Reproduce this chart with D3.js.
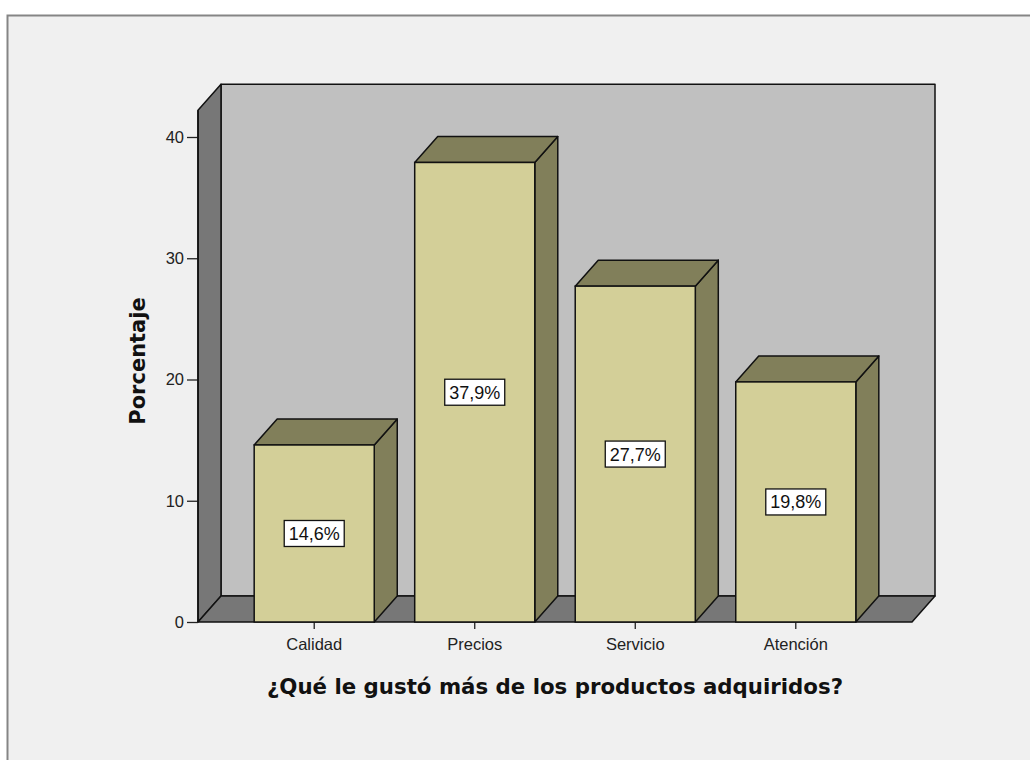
<!DOCTYPE html>
<html>
<head>
<meta charset="utf-8">
<script src="https://cdn.jsdelivr.net/npm/d3@7/dist/d3.min.js"></script>
<style>
  html, body { margin: 0; padding: 0; background: #ffffff; }
  svg { display: block; }
</style>
</head>
<body>
<svg id="chart" width="1030" height="760"></svg>
<script>
// Data
const categories = ["Calidad", "Precios", "Servicio", "Atención"];
const percentages = [14.6, 37.9, 27.7, 19.8];
const yTickValues = [0, 10, 20, 30, 40];
const yAxisTitle = "Porcentaje";
const xAxisTitle = "¿Qué le gustó más de los productos adquiridos?";

const svg = d3.select("#chart");

// Chart frame
svg.append("rect")
  .attr("x", 7.5).attr("y", 15.5)
  .attr("width", 1040).attr("height", 780)
  .attr("fill", "#f0f0f0")
  .attr("stroke", "#858585")
  .attr("stroke-width", 2);

// Plot geometry (front plane) and 3D depth offset
const left = 198, right = 912, bottom = 622;
const depthX = 23, depthY = 26;

const x = d3.scaleBand()
  .domain(categories)
  .range([left, right])
  .paddingInner(0.252)
  .paddingOuter(0.35);

const y = d3.scaleLinear()
  .domain([0, 40])
  .range([bottom, 137]);

const wallTop = y(42.2);

const pts = p => p.map(d => d.join(",")).join(" ");

// Back wall
svg.append("polygon")
  .attr("points", pts([
    [left + depthX, wallTop - depthY], [right + depthX, wallTop - depthY],
    [right + depthX, bottom - depthY], [left + depthX, bottom - depthY]]))
  .attr("fill", "#c0c0c0").attr("stroke", "#111").attr("stroke-width", 1.5)
  .attr("stroke-linejoin", "round");

// Side wall
svg.append("polygon")
  .attr("points", pts([
    [left, wallTop], [left + depthX, wallTop - depthY],
    [left + depthX, bottom - depthY], [left, bottom]]))
  .attr("fill", "#777777").attr("stroke", "#111").attr("stroke-width", 1.5)
  .attr("stroke-linejoin", "round");

// Floor
svg.append("polygon")
  .attr("points", pts([
    [left, bottom], [left + depthX, bottom - depthY],
    [right + depthX, bottom - depthY], [right, bottom]]))
  .attr("fill", "#777777").attr("stroke", "#111").attr("stroke-width", 1.5)
  .attr("stroke-linejoin", "round");

// Y axis ticks and labels
const yAxis = d3.axisLeft(y).tickValues(yTickValues).tickSize(11).tickPadding(3)
  .tickFormat(d3.format("d"));
const gy = svg.append("g").attr("transform", `translate(${left},0)`).call(yAxis);
gy.select(".domain").remove();
gy.selectAll(".tick line").attr("stroke", "#222").attr("stroke-width", 1.3);
gy.selectAll(".tick text")
  .attr("font-family", "'Liberation Sans', Arial, sans-serif")
  .attr("font-size", 16.5).attr("fill", "#222");

// X axis ticks and labels
const xAxis = d3.axisBottom(x).tickSize(7).tickPadding(9);
const gx = svg.append("g").attr("transform", `translate(0,${bottom})`).call(xAxis);
gx.select(".domain").remove();
gx.selectAll(".tick line").attr("stroke", "#222").attr("stroke-width", 1.3);
gx.selectAll(".tick text")
  .attr("font-family", "'Liberation Sans', Arial, sans-serif")
  .attr("font-size", 16.5).attr("fill", "#222");

// 3D bars
const bars = svg.append("g").selectAll("g.bar")
  .data(categories.map((c, i) => ({ cat: c, value: percentages[i] })))
  .join("g").attr("class", "bar");

bars.append("polygon") // right side face
  .attr("points", d => {
    const x1 = x(d.cat) + x.bandwidth(), yt = y(d.value);
    return pts([[x1, yt], [x1 + depthX, yt - depthY], [x1 + depthX, bottom - depthY], [x1, bottom]]);
  })
  .attr("fill", "#817f5a").attr("stroke", "#111").attr("stroke-width", 1.5)
  .attr("stroke-linejoin", "round");

bars.append("polygon") // top face
  .attr("points", d => {
    const x0 = x(d.cat), x1 = x0 + x.bandwidth(), yt = y(d.value);
    return pts([[x0, yt], [x0 + depthX, yt - depthY], [x1 + depthX, yt - depthY], [x1, yt]]);
  })
  .attr("fill", "#817f5a").attr("stroke", "#111").attr("stroke-width", 1.5)
  .attr("stroke-linejoin", "round");

bars.append("rect") // front face
  .attr("x", d => x(d.cat))
  .attr("y", d => y(d.value))
  .attr("width", x.bandwidth())
  .attr("height", d => bottom - y(d.value))
  .attr("fill", "#d3cf98").attr("stroke", "#111").attr("stroke-width", 1.5);

// Value labels
const fmt = v => d3.format(".1f")(v).replace(".", ",") + "%";
const labels = bars.append("g")
  .attr("transform", d => `translate(${x(d.cat) + x.bandwidth() / 2},${(y(d.value) + bottom) / 2})`);
labels.append("rect")
  .attr("x", -30).attr("y", -13).attr("width", 60).attr("height", 26)
  .attr("fill", "#ffffff").attr("stroke", "#111").attr("stroke-width", 1.3);
labels.append("text")
  .attr("text-anchor", "middle").attr("dy", "0.36em")
  .attr("font-family", "'Liberation Sans', Arial, sans-serif")
  .attr("font-size", 18).attr("fill", "#111")
  .text(d => fmt(d.value));

// Front axis edge drawn over the tick stubs
svg.append("line")
  .attr("x1", left).attr("x2", left).attr("y1", wallTop).attr("y2", bottom)
  .attr("stroke", "#111").attr("stroke-width", 1.5);

// Axis titles
svg.append("text")
  .attr("transform", `translate(145,361) rotate(-90)`)
  .attr("text-anchor", "middle")
  .attr("font-family", "'DejaVu Sans', sans-serif").attr("font-weight", "bold")
  .attr("font-size", 21).attr("fill", "#111")
  .text(yAxisTitle);

svg.append("text")
  .attr("x", (left + right) / 2).attr("y", 694)
  .attr("text-anchor", "middle")
  .attr("font-family", "'DejaVu Sans', sans-serif").attr("font-weight", "bold")
  .attr("font-size", 21.3).attr("fill", "#111")
  .text(xAxisTitle);
</script>
</body>
</html>
